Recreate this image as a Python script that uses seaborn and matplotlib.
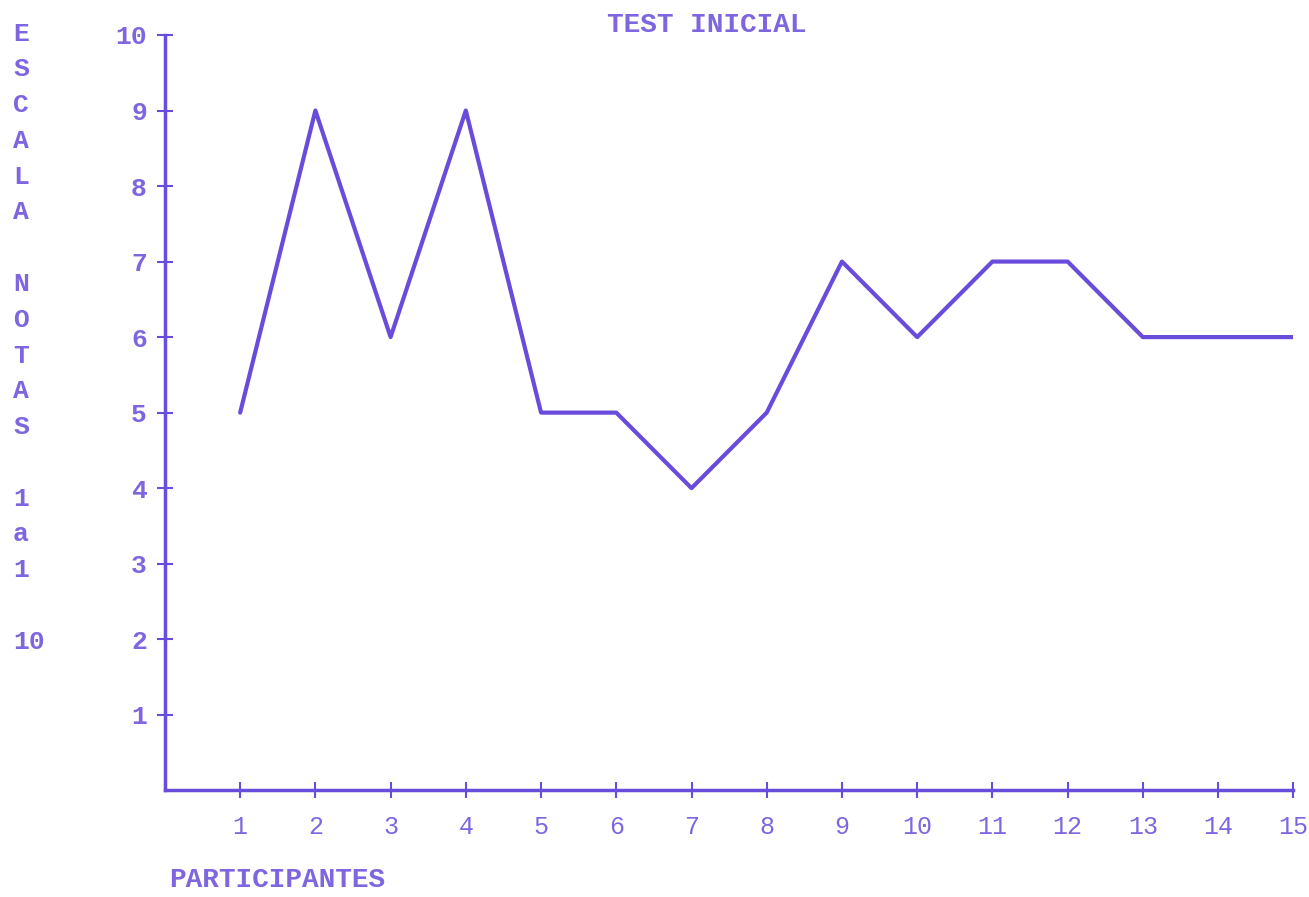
import pandas as pd
import numpy as np
import matplotlib
matplotlib.use("Agg")
import matplotlib.pyplot as plt
import seaborn as sns

participantes = list(range(1, 16))
notas = [5, 9, 6, 9, 5, 5, 4, 5, 7, 6, 7, 7, 6, 6, 6]
y_ticks = list(range(1, 11))
ylabel_lines = ["E", "S", "C", "A", "L", "A", "", "N", "O", "T", "A", "S", "", "1", "a", "1", "", "10"]

line_color = "#6a4cdc"
text_color = "#7f66e0"

sns.set_style("white")
plt.rcParams['font.family'] = ['Liberation Mono', 'DejaVu Sans']

df = pd.DataFrame({"participante": participantes, "nota": notas})

fig = plt.figure(figsize=(13.09, 8.97), dpi=100)
ax = fig.add_axes([0.126, 0.119, 0.862, 0.842])

sns.lineplot(data=df, x="participante", y="nota", ax=ax, color=line_color, linewidth=3)

ax.set_xlim(0, 15)
ax.set_ylim(0, 10)
ax.set_xticks(participantes)
ax.set_yticks(y_ticks)
ax.set_xlabel("")
ax.set_ylabel("")

for side in ["top", "right"]:
    ax.spines[side].set_visible(False)
for side in ["left", "bottom"]:
    ax.spines[side].set_color(line_color)
    ax.spines[side].set_linewidth(2.5)

ax.tick_params(axis="both", bottom=True, left=True, direction="inout", length=12, width=1.5,
               color=line_color, labelcolor=text_color)
ax.tick_params(axis="x", pad=12, labelsize=18)
ax.tick_params(axis="y", pad=7, labelsize=19)
for lbl in ax.get_yticklabels():
    lbl.set_fontweight("bold")

fig.text(0.540, 0.972, "TEST INICIAL", ha="center", va="center", color=text_color,
         fontsize=20, fontweight="bold")
fig.text(0.129, 0.019, "PARTICIPANTES", ha="left", va="center", color=text_color,
         fontsize=20, fontweight="bold")
fig.text(0.010, 0.976, "\n".join(ylabel_lines), ha="left", va="top", color=text_color,
         fontsize=19, fontweight="bold", linespacing=1.62)

fig.savefig("out.png", dpi=100, facecolor="white")
